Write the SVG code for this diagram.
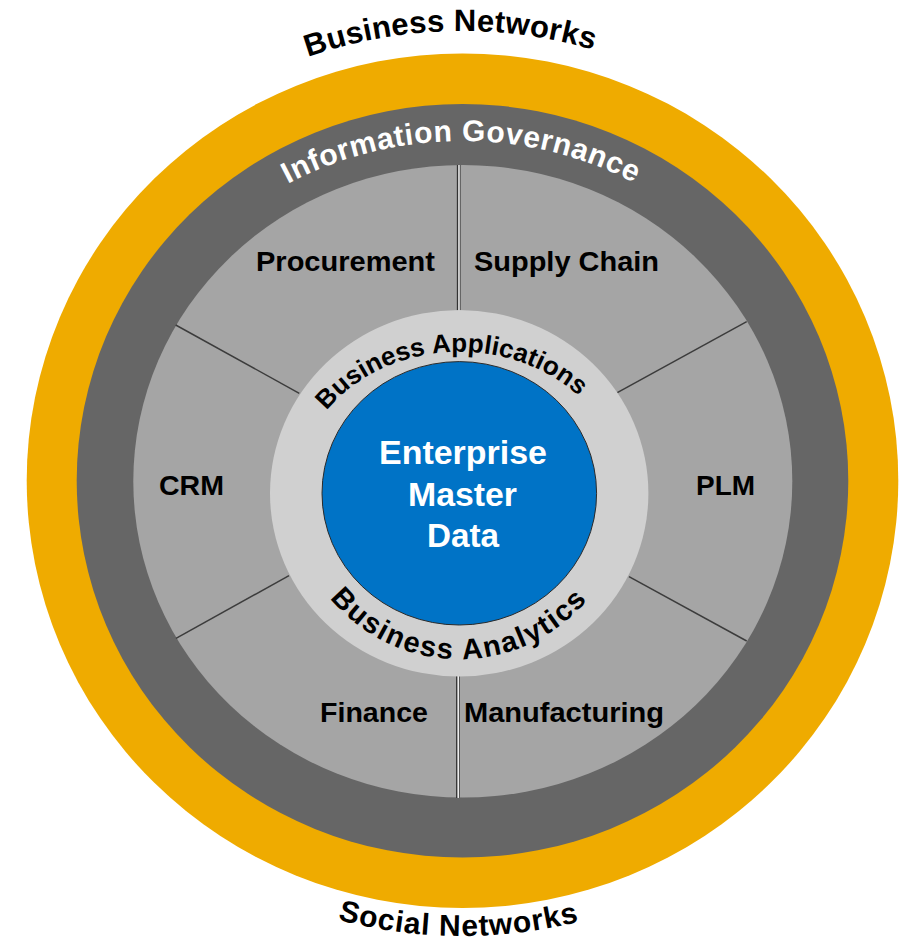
<svg xmlns="http://www.w3.org/2000/svg" xmlns:xlink="http://www.w3.org/1999/xlink" width="912" height="943" viewBox="0 0 912 943">
<style>
text{font-family:"Liberation Sans",Arial,sans-serif;font-weight:bold}
.blk{fill:#000}
.wht{fill:#fff}
.seg{font-size:28px}
.div{stroke:#3c3c3c;stroke-width:1.5;fill:none}
</style>
<defs>
<path id="pBN" d="M308,57 A460,450 0 0 1 860.4,256"/>
<path id="pIG" d="M287.9,183.9 A358,340 0 0 1 798.4,364.7"/>
<path id="pBAp" d="M326.5,410.5 A164,142 0 0 1 620.8,468.6"/>
<path id="pBAn" d="M329.9,598.2 A167,166 0 0 0 623.8,464.5"/>
<path id="pSN" d="M337.5,919.6 A467,455 0 0 0 819.7,773.5"/>
</defs>
<g id="business-networks">
<ellipse cx="462.5" cy="480.7" rx="435.8" ry="427.3" fill="#EFAB00"/>
<text class="blk" font-size="31"><textPath xlink:href="#pBN" href="#pBN" textLength="290" lengthAdjust="spacing">Business Networks</textPath></text>
<text class="blk" font-size="30"><textPath xlink:href="#pSN" href="#pSN" textLength="244" lengthAdjust="spacing">Social Networks</textPath></text>
</g>
<g id="information-governance">
<ellipse cx="462.5" cy="480.8" rx="385.8" ry="376.8" fill="#666666"/>
<text class="wht" font-size="30"><textPath xlink:href="#pIG" href="#pIG" textLength="360" lengthAdjust="spacing">Information Governance</textPath></text>
</g>
<g id="applications-ring">
<ellipse cx="462.8" cy="481.3" rx="329.5" ry="316.3" fill="#A5A5A5"/>
</g>
<g id="connectors">
<line x1="457.6" y1="165" x2="457.6" y2="311" stroke="#333" stroke-width="1.5"/>
<line x1="459" y1="165" x2="459" y2="311" stroke="#fff" stroke-width="1.2"/>
<line x1="460.3" y1="165" x2="460.3" y2="311" stroke="#555" stroke-width="1"/>
<line x1="456.8" y1="676" x2="456.8" y2="798" stroke="#333" stroke-width="1.5"/>
<line x1="458.2" y1="676" x2="458.2" y2="798" stroke="#fff" stroke-width="1.2"/>
<line x1="459.5" y1="676" x2="459.5" y2="798" stroke="#555" stroke-width="1"/>
<line class="div" x1="175.7" y1="325" x2="299.3" y2="393.3"/>
<line class="div" x1="746.7" y1="321.7" x2="617.3" y2="392.7"/>
<line class="div" x1="176" y1="638.3" x2="289" y2="575.7"/>
<line class="div" x1="629" y1="576.7" x2="746.7" y2="641"/>
</g>
<g id="procurement"><text class="blk seg" x="256" y="271" textLength="179" lengthAdjust="spacingAndGlyphs">Procurement</text></g>
<g id="supply-chain"><text class="blk seg" x="474" y="271" textLength="185" lengthAdjust="spacingAndGlyphs">Supply Chain</text></g>
<g id="crm"><text class="blk seg" x="159" y="495" textLength="65" lengthAdjust="spacingAndGlyphs">CRM</text></g>
<g id="plm"><text class="blk seg" x="696" y="495" textLength="59" lengthAdjust="spacingAndGlyphs">PLM</text></g>
<g id="finance"><text class="blk seg" x="320" y="722" textLength="108" lengthAdjust="spacingAndGlyphs">Finance</text></g>
<g id="manufacturing"><text class="blk seg" x="464" y="722" textLength="200" lengthAdjust="spacingAndGlyphs">Manufacturing</text></g>
<g id="business-layer">
<ellipse cx="459.2" cy="493.3" rx="189.2" ry="183.3" fill="#D0D0D0"/>
<text class="blk" font-size="26"><textPath xlink:href="#pBAp" href="#pBAp" textLength="280" lengthAdjust="spacing">Business Applications</textPath></text>
<text class="blk" font-size="29"><textPath xlink:href="#pBAn" href="#pBAn" textLength="293" lengthAdjust="spacing">Business Analytics</textPath></text>
</g>
<g id="enterprise-master-data">
<ellipse cx="459.3" cy="493.3" rx="137.3" ry="131.7" fill="#0073C6" stroke="#2a2a2a" stroke-width="1"/>
<text class="wht" font-size="33" x="379" y="464" textLength="168" lengthAdjust="spacingAndGlyphs">Enterprise</text>
<text class="wht" font-size="33" x="408" y="506" textLength="109" lengthAdjust="spacingAndGlyphs">Master</text>
<text class="wht" font-size="33" x="427" y="547" textLength="72" lengthAdjust="spacingAndGlyphs">Data</text>
</g>
</svg>
